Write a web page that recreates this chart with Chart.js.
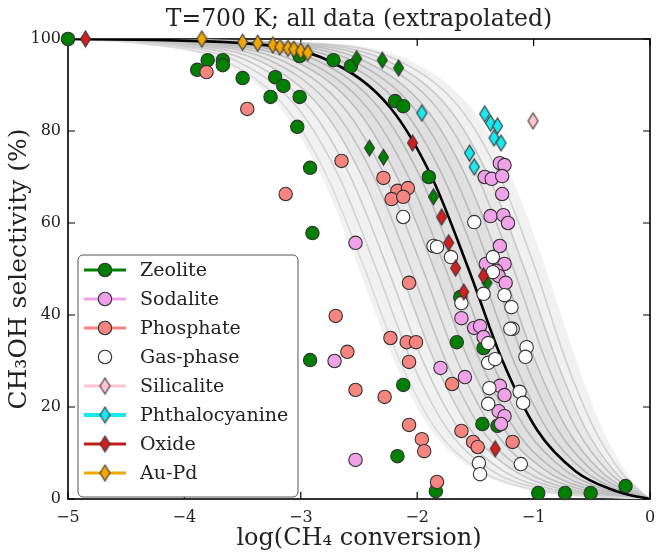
<!DOCTYPE html>
<html>
<head>
<meta charset="utf-8">
<script src="https://cdn.jsdelivr.net/npm/chart.js@4.4.0/dist/chart.umd.min.js"></script>
<style>
html,body{margin:0;padding:0;background:#fff;}
#wrap{width:666px;height:553px;}
</style>
</head>
<body>
<div id="wrap"><canvas id="c" width="666" height="553"></canvas></div>
<script>
// ---------------- DATA ----------------
const chartTitle = 'T=700 K; all data (extrapolated)';
const xTicks = [-5, -4, -3, -2, -1, 0];
const yTicks = [0, 20, 40, 60, 80, 100];

// model curves: selectivity grid and log(conversion) of each curve
const curveSel = [100, 99, 95, 85, 70, 50, 30, 15, 6, 2, 1, 0];
const blackCurveX = [-5, -3.449, -2.736, -2.229, -1.875, -1.559, -1.266, -0.970, -0.637, -0.324, -0.192, 0];
const bandOuterLeftX = [-5, -4.399, -3.685, -3.177, -2.821, -2.501, -2.199, -1.883, -1.493, -1.043, -0.780, 0];
const bandOuterRightX = [-5, -2.750, -2.038, -1.536, -1.191, -0.894, -0.631, -0.405, -0.208, -0.081, -0.042, 0];
const grayCurvesX = [
  [-5, -4.349, -3.635, -3.127, -2.772, -2.451, -2.149, -1.834, -1.445, -0.998, -0.739, 0],
  [-5, -4.249, -3.535, -3.027, -2.671, -2.351, -2.050, -1.735, -1.349, -0.909, -0.658, 0],
  [-5, -4.149, -3.435, -2.927, -2.572, -2.252, -1.951, -1.637, -1.254, -0.822, -0.582, 0],
  [-5, -4.049, -3.335, -2.827, -2.472, -2.152, -1.852, -1.539, -1.159, -0.739, -0.510, 0],
  [-5, -3.949, -3.235, -2.728, -2.372, -2.053, -1.753, -1.442, -1.067, -0.658, -0.443, 0],
  [-5, -3.849, -3.135, -2.628, -2.273, -1.953, -1.655, -1.345, -0.976, -0.582, -0.382, 0],
  [-5, -3.749, -3.035, -2.528, -2.173, -1.854, -1.556, -1.249, -0.886, -0.510, -0.326, 0],
  [-5, -3.649, -2.935, -2.428, -2.074, -1.755, -1.459, -1.155, -0.800, -0.442, -0.275, 0],
  [-5, -3.549, -2.835, -2.328, -1.974, -1.657, -1.362, -1.061, -0.716, -0.381, -0.231, 0],
  [-5, -3.349, -2.636, -2.129, -1.776, -1.461, -1.171, -0.880, -0.560, -0.274, -0.158, 0],
  [-5, -3.249, -2.536, -2.030, -1.677, -1.364, -1.077, -0.792, -0.488, -0.228, -0.129, 0],
  [-5, -3.149, -2.436, -1.930, -1.579, -1.267, -0.985, -0.707, -0.421, -0.189, -0.105, 0],
  [-5, -3.049, -2.336, -1.831, -1.481, -1.172, -0.894, -0.626, -0.360, -0.155, -0.085, 0],
  [-5, -2.949, -2.237, -1.732, -1.384, -1.078, -0.802, -0.548, -0.304, -0.126, -0.068, 0],
  [-5, -2.850, -2.137, -1.634, -1.287, -0.985, -0.722, -0.474, -0.253, -0.102, -0.054, 0]
];

// scatter series
const categories = ['Zeolite', 'Sodalite', 'Phosphate', 'Gas-phase', 'Silicalite', 'Phthalocyanine', 'Oxide', 'Au-Pd'];

const zeoliteX = [-5.00,-3.89,-3.80,-3.67,-3.67,-3.50,-3.22,-3.15,-3.26,-3.01,-3.03,-3.01,-2.72,-2.57,-2.92,-2.90,-2.92,-2.19,-2.12,-1.90,-1.63,-1.66,-1.43,-2.12,-1.44,-1.31,-2.17,-1.84,-0.96,-0.73,-0.51,-0.21];
const zeoliteY = [100,93.3,95.4,95.4,94.3,91.5,91.7,89.8,87.4,87.4,80.9,96.3,95.4,94.1,72.0,57.8,30.2,86.5,85.4,70.0,43.9,34.1,32.8,24.8,16.3,15.9,9.3,1.7,1.3,1.3,1.3,2.8];
const zeoliteDiamondX = [-2.52,-2.30,-2.16,-2.41,-2.29,-1.86,-1.40];
const zeoliteDiamondY = [95.7,95.4,93.7,76.3,74.3,65.7,47.0];
const sodaliteX = [-2.53,-2.71,-2.53,-1.29,-1.25,-1.42,-1.36,-1.27,-1.27,-1.37,-1.26,-1.22,-1.29,-1.41,-1.25,-1.32,-1.30,-1.24,-1.62,-1.51,-1.46,-1.43,-1.80,-1.59,-1.29,-1.25,-1.30,-1.25,-1.28];
const sodaliteY = [55.7,30.0,8.5,73.0,72.6,70.0,69.6,70.2,66.3,61.5,61.7,60.0,55.0,51.1,51.1,49.6,48.5,47.0,39.3,37.2,37.6,35.2,28.5,26.5,24.6,22.6,19.1,18.0,16.3];
const phosphateX = [-3.81,-3.46,-3.13,-2.65,-2.29,-2.17,-2.08,-2.22,-2.12,-2.07,-2.70,-2.60,-2.53,-2.23,-2.09,-2.01,-2.07,-2.28,-1.70,-2.07,-1.96,-1.94,-1.62,-1.52,-1.48,-1.18,-1.83];
const phosphateY = [92.8,84.8,66.3,73.5,69.8,67.0,67.6,65.2,65.7,47.0,39.8,32.0,23.7,35.0,34.1,34.1,29.8,22.2,25.0,16.1,13.0,10.4,14.8,12.4,11.3,12.4,3.7];
const gasX = [-2.12,-1.51,-1.86,-1.83,-1.71,-1.35,-1.35,-1.43,-1.25,-1.62,-1.19,-1.18,-1.20,-1.39,-1.06,-1.07,-1.39,-1.33,-1.38,-1.12,-1.09,-1.39,-1.47,-1.46,-1.11];
const gasY = [61.3,60.2,55.0,54.8,52.6,52.6,49.3,44.6,44.3,42.6,41.7,37.0,37.0,33.9,33.0,30.9,29.6,30.4,24.1,23.3,20.9,20.7,7.8,5.4,7.6];
const silicaliteX = [-1.005];
const silicaliteY = [82.2];
const phthaloX = [-1.96,-1.42,-1.37,-1.31,-1.34,-1.28,-1.55,-1.51];
const phthaloY = [83.9,83.7,81.7,81.1,78.5,77.4,75.2,72.2];
const oxideX = [-4.85,-2.04,-1.79,-1.73,-1.67,-1.60,-1.43,-1.33];
const oxideY = [100,77.4,61.3,55.7,50.2,45.0,48.5,10.9];
const aupdX = [-3.85,-3.50,-3.37,-3.24,-3.18,-3.11,-3.06,-3.00,-2.94];
const aupdY = [100,99.3,99.1,98.7,98.3,98.0,97.8,97.4,97.0];

// ---------------- STYLE ----------------
const FONT = "'DejaVu Serif', serif";
const EDGE = '#333333';
const C = {
  zeolite: '#008000', sodalite: '#f0a2e8', phosphate: '#f6857f', gas: '#ffffff',
  silicalite: '#ffc4cf', phthalo: '#19e8ef', oxide: '#d21f1f', aupd: '#f2a600'
};

function pts(xs, ys) { return xs.map((x, i) => ({x: x, y: ys[i]})); }

function makeDiamond(fill, stroke, w, h) {
  const c = document.createElement('canvas');
  c.width = w + 3; c.height = h + 3;
  const g = c.getContext('2d');
  const cx = c.width / 2, cy = c.height / 2;
  g.beginPath();
  g.moveTo(cx, cy - h / 2); g.lineTo(cx + w / 2, cy); g.lineTo(cx, cy + h / 2); g.lineTo(cx - w / 2, cy);
  g.closePath();
  g.fillStyle = fill; g.fill();
  g.lineWidth = 1.1; g.strokeStyle = stroke; g.stroke();
  return c;
}
const DW = 10, DH = 16;
const dZeo = makeDiamond(C.zeolite, EDGE, DW, DH);
const dSil = makeDiamond(C.silicalite, EDGE, DW, DH);
const dPht = makeDiamond(C.phthalo, EDGE, DW, DH);
const dOxi = makeDiamond(C.oxide, EDGE, DW, DH);
const dAu = makeDiamond(C.aupd, EDGE, DW, DH);

function curveDs(xs, color, width, order, extra) {
  return Object.assign({
    type: 'line', data: pts(xs, curveSel), borderColor: color, borderWidth: width,
    pointRadius: 0, fill: false, cubicInterpolationMode: 'monotone', order: order
  }, extra || {});
}
function circleDs(xs, ys, fill, order) {
  return {type: 'scatter', data: pts(xs, ys), pointStyle: 'circle', pointRadius: 6.7,
    backgroundColor: fill, borderColor: EDGE, borderWidth: 1.1, clip: false, order: order};
}
function diamondDs(xs, ys, img, order) {
  return {type: 'scatter', data: pts(xs, ys), pointStyle: img, pointRadius: 6,
    backgroundColor: '#000', borderColor: EDGE, clip: false, order: order};
}

const NONE = 'rgba(0,0,0,0)';
const datasets = [
  curveDs(bandOuterLeftX, NONE, 0, 70, {fill: {target: 1}, backgroundColor: '#f1f1f1'}),
  curveDs(bandOuterRightX, NONE, 0, 69),
  curveDs(grayCurvesX[3], NONE, 0, 68, {fill: {target: 3}, backgroundColor: '#e8e8e8'}),
  curveDs(grayCurvesX[13], NONE, 0, 67),
  curveDs(grayCurvesX[6], NONE, 0, 66, {fill: {target: 5}, backgroundColor: '#e0e0e0'}),
  curveDs(grayCurvesX[11], NONE, 0, 65)
];
const grayColors = ['#dadada', '#d2d2d2', '#cbcbcb', '#c6c6c6', '#c2c2c2', '#bfbfbf', '#bcbcbc', '#bababa', '#b8b8b8',
                    '#b8b8b8', '#bababa', '#bdbdbd', '#c2c2c2', '#c8c8c8', '#d0d0d0'];
grayCurvesX.forEach((xs, i) => datasets.push(curveDs(xs, grayColors[i], 1.6, 50)));
datasets.push(curveDs(blackCurveX, '#000000', 2.6, 40));
datasets.push(
  circleDs(zeoliteX, zeoliteY, C.zeolite, 20),
  diamondDs(zeoliteDiamondX, zeoliteDiamondY, dZeo, 19),
  circleDs(sodaliteX, sodaliteY, C.sodalite, 18),
  circleDs(phosphateX, phosphateY, C.phosphate, 17),
  circleDs(gasX, gasY, C.gas, 16),
  diamondDs(silicaliteX, silicaliteY, dSil, 15),
  diamondDs(phthaloX, phthaloY, dPht, 14),
  diamondDs(oxideX, oxideY, dOxi, 13),
  diamondDs(aupdX, aupdY, dAu, 12)
);

const legendItems = [
  {label: categories[0], fill: C.zeolite, line: '#008000', shape: 'circle'},
  {label: categories[1], fill: C.sodalite, line: '#f0a2e8', shape: 'circle'},
  {label: categories[2], fill: C.phosphate, line: '#f6857f', shape: 'circle'},
  {label: categories[3], fill: C.gas, line: null, shape: 'circle'},
  {label: categories[4], fill: C.silicalite, line: '#ffc4cf', shape: dSil},
  {label: categories[5], fill: C.phthalo, line: '#19e8ef', shape: dPht},
  {label: categories[6], fill: C.oxide, line: '#c41a1a', shape: dOxi},
  {label: categories[7], fill: C.aupd, line: '#f2a600', shape: dAu}
];

const framePlugin = {
  id: 'frame',
  beforeDatasetsDraw(chart) {
    const {ctx, chartArea: a, scales} = chart;
    ctx.save();
    ctx.strokeStyle = '#000';
    ctx.lineWidth = 1.2;
    ctx.beginPath();
    xTicks.forEach(v => {
      const px = scales.x.getPixelForValue(v);
      ctx.moveTo(px, a.bottom); ctx.lineTo(px, a.bottom - 7);
      ctx.moveTo(px, a.top); ctx.lineTo(px, a.top + 7);
    });
    yTicks.forEach(v => {
      const py = scales.y.getPixelForValue(v);
      ctx.moveTo(a.left, py); ctx.lineTo(a.left + 7, py);
      ctx.moveTo(a.right, py); ctx.lineTo(a.right - 7, py);
    });
    ctx.stroke();
    ctx.lineWidth = 1.6;
    ctx.strokeRect(a.left, a.top, a.right - a.left, a.bottom - a.top);
    ctx.restore();
  },
  afterDatasetsDraw(chart) {
    const {ctx, chartArea: a} = chart;
    ctx.save();
    // title
    ctx.font = '23.5px ' + FONT;
    ctx.fillStyle = '#222';
    ctx.textAlign = 'center';
    ctx.textBaseline = 'alphabetic';
    ctx.fillText(chartTitle, (a.left + a.right) / 2, 26);
    // legend
    const bx = 78, by = 255, bw = 220, bh = 242;
    ctx.beginPath();
    ctx.roundRect(bx, by, bw, bh, 5);
    ctx.fillStyle = '#ffffff';
    ctx.fill();
    ctx.lineWidth = 1;
    ctx.strokeStyle = '#555';
    ctx.stroke();
    ctx.font = '19px ' + FONT;
    ctx.textAlign = 'left';
    ctx.textBaseline = 'middle';
    legendItems.forEach((it, i) => {
      const y = 270 + i * 29;
      if (it.line) {
        ctx.beginPath();
        ctx.moveTo(84, y); ctx.lineTo(126, y);
        ctx.strokeStyle = it.line;
        ctx.lineWidth = it.label === 'Phthalocyanine' ? 4 : 3;
        ctx.stroke();
      }
      if (it.shape === 'circle') {
        ctx.beginPath();
        ctx.arc(105, y, 6.7, 0, Math.PI * 2);
        ctx.fillStyle = it.fill; ctx.fill();
        ctx.lineWidth = 1.1; ctx.strokeStyle = EDGE; ctx.stroke();
      } else {
        ctx.drawImage(it.shape, 105 - it.shape.width / 2, y - it.shape.height / 2);
      }
      ctx.fillStyle = '#222';
      ctx.fillText(it.label, 140, y + 1);
    });
    ctx.restore();
  }
};

Chart.defaults.font.family = FONT;
Chart.defaults.color = '#222';

new Chart(document.getElementById('c'), {
  type: 'scatter',
  data: {datasets: datasets},
  options: {
    responsive: false,
    devicePixelRatio: 1,
    animation: false,
    events: [],
    layout: {padding: {top: 39, right: 16, left: 0, bottom: 0}},
    plugins: {legend: {display: false}, tooltip: {enabled: false}, title: {display: false}},
    scales: {
      x: {
        type: 'linear', min: -5, max: 0,
        grid: {display: false, drawTicks: false}, border: {display: false},
        afterBuildTicks(s) { s.ticks = xTicks.map(v => ({value: v})); },
        ticks: {padding: 9, color: '#222', font: {size: 16},
          callback: v => v < 0 ? '\u2212' + Math.abs(v) : String(v)},
        title: {display: true, text: 'log(CH\u2084 conversion)', color: '#222', font: {size: 24}, padding: {top: 0, bottom: 0}},
        afterFit(s) { s.height = 54; }
      },
      y: {
        type: 'linear', min: 0, max: 100,
        grid: {display: false, drawTicks: false}, border: {display: false},
        afterBuildTicks(s) { s.ticks = yTicks.map(v => ({value: v})); },
        ticks: {padding: 7, color: '#222', font: {size: 16}},
        title: {display: true, text: 'CH\u2083OH selectivity (%)', color: '#222', font: {size: 25}, padding: {top: 4, bottom: 0}},
        afterFit(s) { s.width = 68; }
      }
    }
  },
  plugins: [framePlugin]
});
</script>
</body>
</html>
